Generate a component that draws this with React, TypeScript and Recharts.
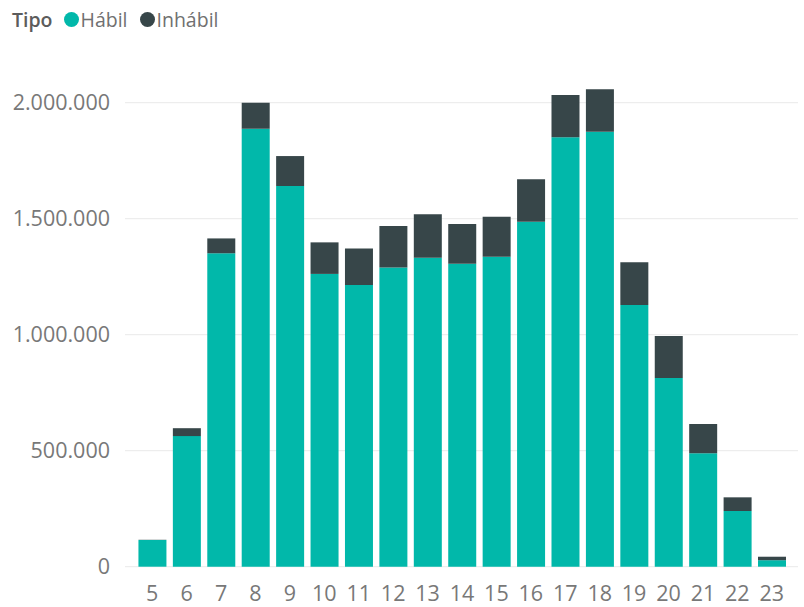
import { BarChart, Bar, XAxis, YAxis, CartesianGrid } from 'recharts';

const hours = ['5', '6', '7', '8', '9', '10', '11', '12', '13', '14', '15', '16', '17', '18', '19', '20', '21', '22', '23'];
const habil = [115000, 563000, 1351000, 1888000, 1641000, 1262000, 1214000, 1290000, 1332000, 1306000, 1336000, 1487000, 1851000, 1875000, 1128000, 813000, 489000, 240000, 28000];
const inhabil = [1000, 34000, 64000, 112000, 129000, 136000, 158000, 178000, 187000, 171000, 172000, 183000, 182000, 183000, 184000, 181000, 126000, 59000, 15000];
const yTicks = [0, 500000, 1000000, 1500000, 2000000];

const TEAL = '#01B8AA';
const DARK = '#374649';
const FONT = '"Open Sans", sans-serif';

const chartData = hours.map((h, i) => ({ hora: h, habil: habil[i], inhabil: inhabil[i] }));

const fmt = (v: number) => String(v).replace(/\B(?=(\d{3})+(?!\d))/g, '.');

function Dot({ color }: { color: string }) {
  return (
    <span
      style={{
        display: 'inline-block',
        width: 15,
        height: 15,
        borderRadius: '50%',
        background: color,
        marginRight: 2,
      }}
    />
  );
}

export default function App() {
  return (
    <div style={{ position: 'absolute', left: 0, top: 0, width: 804, height: 607, background: '#fff' }}>
      <div
        style={{
          position: 'absolute',
          left: 12,
          top: 6,
          display: 'flex',
          alignItems: 'center',
          fontFamily: FONT,
          fontSize: 19.5,
          color: '#707070',
          whiteSpace: 'nowrap',
        }}
      >
        <span style={{ fontWeight: 600, color: '#5c5c5c', marginRight: 11 }}>Tipo</span>
        <Dot color={TEAL} />
        <span style={{ marginRight: 12 }}>Hábil</span>
        <Dot color={DARK} />
        <span>Inhábil</span>
      </div>
      <BarChart
        width={804}
        height={607}
        data={chartData}
        margin={{ top: 79.5, right: 6, bottom: 0, left: 0 }}
        barCategoryGap="10%"
      >
        <CartesianGrid vertical={false} stroke="#e9e9e9" horizontalValues={yTicks} />
        <XAxis
          dataKey="hora"
          height={40.3}
          axisLine={false}
          tickLine={false}
          tickSize={0}
          tickMargin={19}
          padding={{ left: 10, right: 9 }}
          interval={0}
          tick={{ fill: '#787878', fontSize: 21.5, fontFamily: FONT }}
        />
        <YAxis
          width={125}
          domain={[0, 2100000]}
          ticks={yTicks}
          axisLine={false}
          tickLine={false}
          tickSize={0}
          tickMargin={15}
          tickFormatter={fmt}
          tick={{ fill: '#787878', fontSize: 21.5, fontFamily: FONT }}
        />
        <Bar dataKey="habil" stackId="a" fill={TEAL} isAnimationActive={false} />
        <Bar dataKey="inhabil" stackId="a" fill={DARK} isAnimationActive={false} />
      </BarChart>
    </div>
  );
}
